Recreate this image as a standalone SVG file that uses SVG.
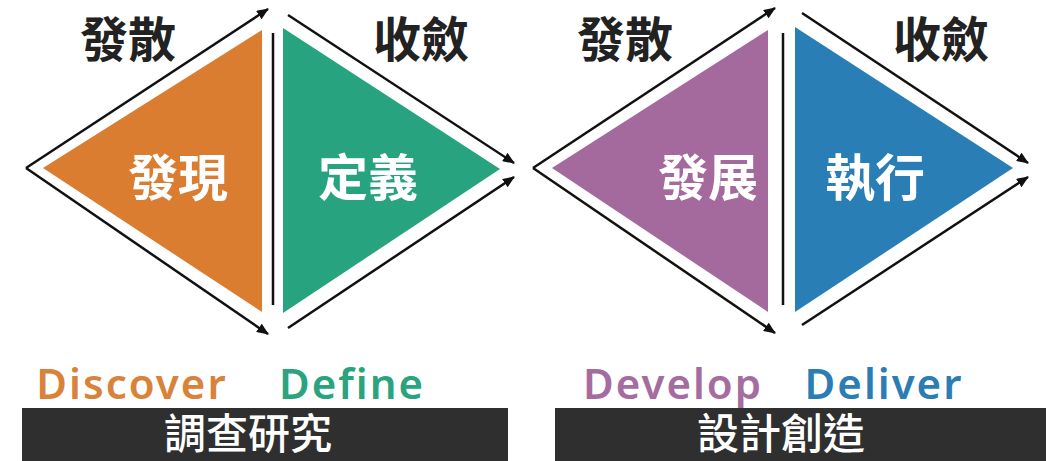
<svg xmlns="http://www.w3.org/2000/svg" width="1046" height="461" viewBox="0 0 1046 461">
<style>
.cjk{font-family:"Noto Sans CJK TC","Noto Sans CJK SC",sans-serif;font-weight:700;text-anchor:middle}
.head{font-size:48px;fill:#222}
.inner{font-size:50px;fill:#ffffff}
.en{font-family:"Noto Sans","Open Sans",sans-serif;font-weight:600;font-size:42px;letter-spacing:2px;text-anchor:middle}
.bar{fill:#2f2f2f}
.bartxt{font-size:42px;fill:#ffffff;font-weight:500}
.ln{stroke:#111;stroke-width:2.5;fill:none}
</style>
<defs>
<marker id="ah" viewBox="0 0 12 10" refX="11" refY="5" markerWidth="12" markerHeight="10" markerUnits="userSpaceOnUse" orient="auto">
<path d="M0,0 L12,5 L0,10 Z" fill="#111"/>
</marker>
</defs>
<rect width="1046" height="461" fill="#ffffff"/>

<g id="discover">
<polygon points="43,168 262,30 262,312" fill="#DB7D31"/>
<text class="cjk inner" x="178" y="196">發現</text>
<text class="en" x="132" y="399" fill="#D8823A">Discover</text>
</g>
<g id="define">
<polygon points="283,28 283,313 500,169" fill="#27A37F"/>
<text class="cjk inner" x="368" y="196">定義</text>
<text class="en" x="352" y="399" fill="#2AA37E">Define</text>
</g>
<g id="develop">
<polygon points="552,168 768,30 768,312" fill="#A4699D"/>
<text class="cjk inner" x="708" y="196">發展</text>
<text class="en" x="673" y="399" fill="#A56D9F">Develop</text>
</g>
<g id="deliver">
<polygon points="795,27 795,312 1013,168" fill="#2A7EB6"/>
<text class="cjk inner" x="875" y="196">執行</text>
<text class="en" x="884" y="399" fill="#2B7DB3">Deliver</text>
</g>

<g id="labels">
<text class="cjk head" x="128" y="57">發散</text>
<text class="cjk head" x="421" y="57">收斂</text>
<text class="cjk head" x="625" y="57">發散</text>
<text class="cjk head" x="941" y="57">收斂</text>
</g>

<g id="research">
<rect class="bar" x="22" y="408" width="486" height="53"/>
<text class="cjk bartxt" x="248" y="449">調查研究</text>
</g>
<g id="design">
<rect class="bar" x="555" y="408" width="491" height="53"/>
<text class="cjk bartxt" x="781" y="449">設計創造</text>
</g>

<g id="connectors">
<line class="ln" x1="26" y1="168" x2="268" y2="9" marker-end="url(#ah)"/>
<line class="ln" x1="26" y1="168" x2="268" y2="334" marker-end="url(#ah)"/>
<line class="ln" x1="273" y1="33" x2="273" y2="305"/>
<line class="ln" x1="288" y1="15" x2="514" y2="163" marker-end="url(#ah)"/>
<line class="ln" x1="288" y1="328" x2="514" y2="177" marker-end="url(#ah)"/>

<line class="ln" x1="533" y1="168" x2="775" y2="8" marker-end="url(#ah)"/>
<line class="ln" x1="533" y1="168" x2="775" y2="333" marker-end="url(#ah)"/>
<line class="ln" x1="783" y1="33" x2="783" y2="305"/>
<line class="ln" x1="802" y1="13" x2="1028" y2="163" marker-end="url(#ah)"/>
<line class="ln" x1="802" y1="325" x2="1028" y2="177" marker-end="url(#ah)"/>
</g>
</svg>
